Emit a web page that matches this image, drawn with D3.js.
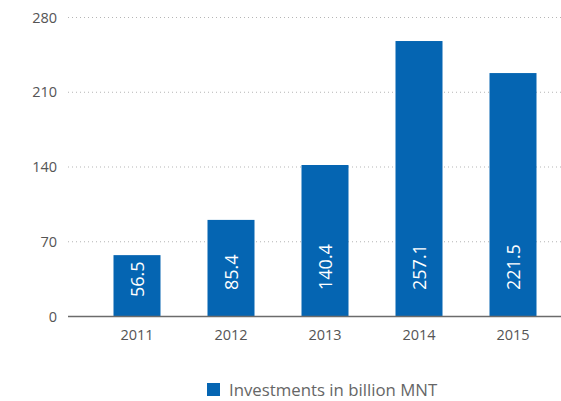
<!DOCTYPE html>
<html>
<head>
<meta charset="utf-8">
<script src="https://cdn.jsdelivr.net/npm/d3@7"></script>
<style>
  body { margin: 0; background: #fff; }
  svg { font-family: "Open Sans", sans-serif; }
</style>
</head>
<body>
<svg width="561" height="401"></svg>
<script>
var years = ["2011", "2012", "2013", "2014", "2015"];
// bar heights as drawn in the picture
var barHeights = [57, 90, 141.4, 257.5, 227.5];
// value labels printed inside the bars
var barLabels = ["56.5", "85.4", "140.4", "257.1", "221.5"];
var yTicks = [0, 70, 140, 210, 280];
var seriesName = "Investments in billion MNT";

var svg = d3.select("svg");
var blue = "#0565b2";

var x = d3.scaleBand().domain(years).range([90, 560]).paddingInner(0.5).paddingOuter(0.25);
var y = d3.scaleLinear().domain([0, 280]).range([316, 17]);

// dotted gridlines
svg.selectAll("line.grid")
  .data(yTicks.filter(function(d) { return d > 0; }))
  .enter()
  .append("line")
  .attr("class", "grid")
  .attr("x1", 68).attr("x2", 561)
  .attr("y1", function(d) { return y(d) + 0.5; })
  .attr("y2", function(d) { return y(d) + 0.5; })
  .attr("stroke", "#b5b5b5")
  .attr("stroke-width", 1)
  .attr("stroke-dasharray", "1,3");

// y tick labels
svg.selectAll("text.ytick")
  .data(yTicks)
  .enter()
  .append("text")
  .attr("class", "ytick")
  .attr("x", 57)
  .attr("y", function(d) { return y(d); })
  .attr("text-anchor", "end")
  .attr("dominant-baseline", "central")
  .attr("fill", "#555")
  .style("font-size", "14.5px")
  .text(function(d) { return d; });

// bars
svg.selectAll("rect.bar")
  .data(years)
  .enter()
  .append("rect")
  .attr("class", "bar")
  .attr("x", function(d) { return x(d); })
  .attr("width", x.bandwidth())
  .attr("y", function(d, i) { return y(barHeights[i]); })
  .attr("height", function(d, i) { return y(0) - y(barHeights[i]); })
  .attr("fill", blue);

// baseline
svg.append("line")
  .attr("x1", 68).attr("x2", 561)
  .attr("y1", y(0) + 0.5).attr("y2", y(0) + 0.5)
  .attr("stroke", "#6b6b6b")
  .attr("stroke-width", 1.5);

// labels inside bars
svg.selectAll("text.val")
  .data(years)
  .enter()
  .append("text")
  .attr("class", "val")
  .attr("transform", function(d, i) {
    var cx = x(d) + x.bandwidth() / 2;
    var yy = i == 0 ? y(0) - 19 : y(0) - 26;
    return "translate(" + cx + "," + yy + ") rotate(-90)";
  })
  .attr("text-anchor", "start")
  .attr("dominant-baseline", "central")
  .attr("fill", "#fff")
  .style("font-size", "18px")
  .style("font-weight", "500")
  .text(function(d, i) { return barLabels[i]; });

// x labels
svg.selectAll("text.xtick")
  .data(years)
  .enter()
  .append("text")
  .attr("class", "xtick")
  .attr("x", function(d) { return x(d) + x.bandwidth() / 2; })
  .attr("y", 340)
  .attr("text-anchor", "middle")
  .attr("fill", "#555")
  .style("font-size", "14.5px")
  .text(function(d) { return d; });

// legend
svg.append("rect")
  .attr("x", 207).attr("y", 383)
  .attr("width", 13).attr("height", 13)
  .attr("fill", blue);
svg.append("text")
  .attr("x", 229).attr("y", 396)
  .attr("fill", "#666")
  .style("font-size", "16.8px")
  .text(seriesName);
</script>
</body>
</html>
